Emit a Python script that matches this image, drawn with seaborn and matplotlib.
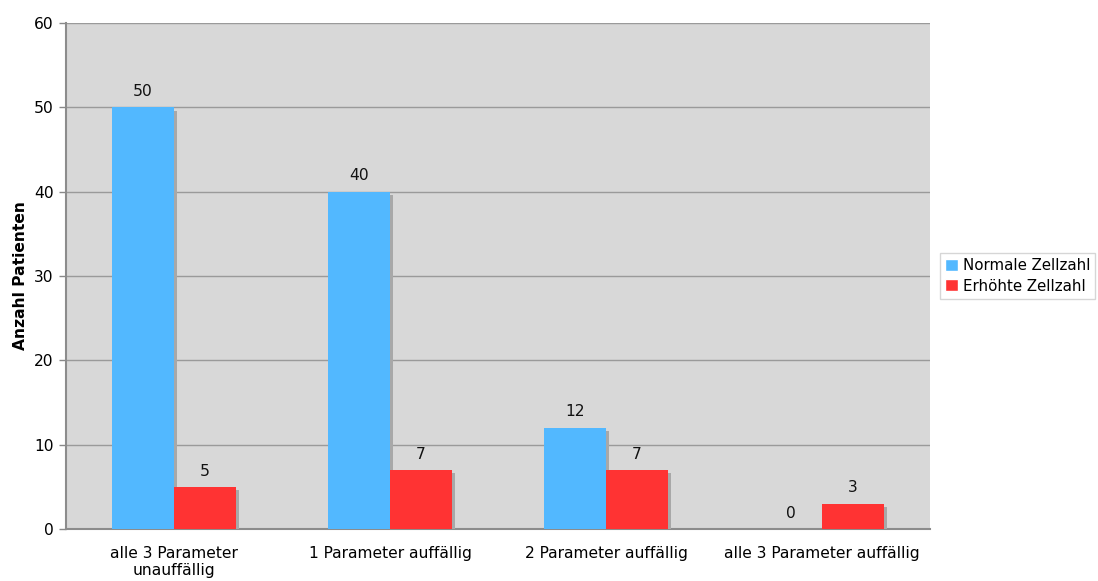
import matplotlib
matplotlib.use("Agg")
import matplotlib.pyplot as plt
import matplotlib.patheffects as pe
import seaborn as sns
import pandas as pd
import numpy as np

categories = ["alle 3 Parameter\nunauffällig", "1 Parameter auffällig",
              "2 Parameter auffällig", "alle 3 Parameter auffällig"]
series_names = ["Normale Zellzahl", "Erhöhte Zellzahl"]
normal_values = [50, 40, 12, 0]
elevated_values = [5, 7, 7, 3]
y_ticks = [0, 10, 20, 30, 40, 50, 60]

df = pd.DataFrame({
    "Kategorie": categories * 2,
    "Gruppe": [series_names[0]] * 4 + [series_names[1]] * 4,
    "Anzahl": normal_values + elevated_values,
})

sns.set_theme(style="white")
plt.rcParams["font.family"] = ["DejaVu Sans"]
plt.rcParams["text.color"] = "#000000"
plt.rcParams["xtick.color"] = "#000000"
plt.rcParams["ytick.color"] = "#000000"
plt.rcParams["axes.labelcolor"] = "#000000"

FS = 11.2

fig = plt.figure(figsize=(10.98, 5.81), dpi=100)
ax = fig.add_axes([66 / 1098, 1 - 529 / 581, (930 - 66) / 1098, (529 - 23) / 581])
ax.set_facecolor("#d8d8d8")

palette = {series_names[0]: "#52b8ff", series_names[1]: "#ff3333"}
sns.barplot(data=df, x="Kategorie", y="Anzahl", hue="Gruppe", palette=palette,
            width=0.574, gap=0, saturation=1, ax=ax, zorder=3, legend=True)

shadow = [pe.SimplePatchShadow(offset=(2.5, -2.5), shadow_rgbFace="#a8a8a8", alpha=1.0),
          pe.Normal()]
for cont in ax.containers:
    for bar in cont:
        bar.set_linewidth(0)
        bar.set_path_effects(shadow)
    ax.bar_label(cont, labels=[str(int(v)) for v in cont.datavalues],
                 padding=6, fontsize=FS, color="#111111")

ax.set_xlim(-0.5, len(categories) - 0.5)
ax.set_ylim(0, 60)
ax.set_yticks(y_ticks)
ax.yaxis.grid(True, color="#9a9a9a", linewidth=1.0, zorder=0)
ax.set_axisbelow(True)

ax.set_xticks(range(len(categories)))
ax.set_xticklabels(categories, fontsize=FS)
ax.set_xticks(np.arange(-0.5, len(categories) + 0.5, 1.0), minor=True)
ax.tick_params(axis="x", which="major", length=0, pad=12)
ax.tick_params(axis="x", which="minor", length=5, color="#888888", width=1)
ax.tick_params(axis="y", length=5, color="#888888", width=1, labelsize=FS, pad=4,
               left=True, labelcolor="#000000")
ax.tick_params(axis="x", labelcolor="#000000")

for side in ["top", "right"]:
    ax.spines[side].set_visible(False)
for side in ["left", "bottom"]:
    ax.spines[side].set_color("#8c8c8c")
    ax.spines[side].set_linewidth(1.5)

ax.set_xlabel("")
ax.set_ylabel("Anzahl Patienten", fontsize=FS, fontweight="bold", labelpad=4)

leg = ax.legend(loc="center left", bbox_to_anchor=(1.0116, 0.5), borderaxespad=0,
                fontsize=10.8, frameon=True, fancybox=False, handlelength=0.85,
                handleheight=0.85, handletextpad=0.3, borderpad=0.35,
                labelspacing=0.35, title=None)
leg.get_frame().set_edgecolor("#cccccc")
leg.get_frame().set_linewidth(1)

fig.savefig("out.png", dpi=100)
